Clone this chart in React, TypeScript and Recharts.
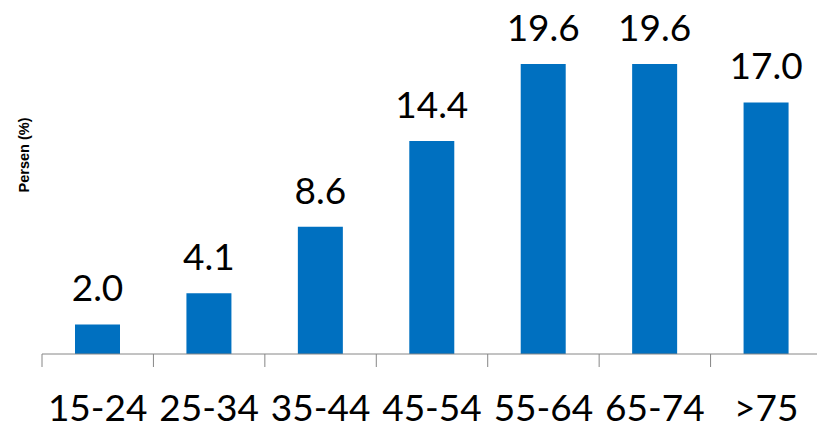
import { BarChart, Bar, XAxis, YAxis, LabelList } from 'recharts'

const ageGroups = ['15-24', '25-34', '35-44', '45-54', '55-64', '65-74', '>75']
const persen = [2.0, 4.1, 8.6, 14.4, 19.6, 19.6, 17.0]

const data = ageGroups.map((g, i) => ({ group: g, value: persen[i] }))

const FONT = 'Lato, "Open Sans", sans-serif'
const AXIS_GRAY = '#868686'

// tick label plus a tick mark at the left boundary of each category
function AgeTick(props: any) {
  const { x, y, payload } = props
  const half = payload && payload.offset ? payload.offset : 55.7
  const lx = x - half
  return (
    <g>
      <line x1={lx} x2={lx} y1={y - 43} y2={y - 30} stroke={AXIS_GRAY} strokeWidth={1} />
      <text x={x} y={y} dy={24} textAnchor="middle" fontSize={37} fontFamily={FONT} fill="#000">
        {payload.value}
      </text>
    </g>
  )
}

function YLabel() {
  return (
    <text
      x={24}
      y={155}
      transform="rotate(-90, 24, 155)"
      textAnchor="middle"
      dominantBaseline="central"
      fontSize={14.5}
      fontWeight="bold"
      fontFamily='"Liberation Sans", Arial, sans-serif'
      fill="#000"
    >
      Persen (%)
    </text>
  )
}

export default function App() {
  return (
    <div style={{ position: 'fixed', left: 0, top: 0, background: '#fff' }}>
      <BarChart
        width={817}
        height={428}
        data={data}
        margin={{ top: 58, right: -5, left: 0, bottom: 0 }}
      >
        <XAxis
          dataKey="group"
          tick={<AgeTick />}
          tickLine={false}
          tickSize={13}
          tickMargin={30}
          axisLine={{ stroke: AXIS_GRAY }}
          interval={0}
          height={74}
        />
        <YAxis
          domain={[0, 20]}
          width={42}
          tick={false}
          tickLine={false}
          axisLine={false}
          label={{ content: <YLabel /> }}
        />
        <Bar dataKey="value" fill="#0070C0" barSize={45} isAnimationActive={false}>
          <LabelList
            dataKey="value"
            position="top"
            offset={23}
            formatter={(v: any) => Number(v).toFixed(1)}
            style={{ fontSize: 37, fontFamily: FONT, fill: '#000' }}
          />
        </Bar>
      </BarChart>
    </div>
  )
}
